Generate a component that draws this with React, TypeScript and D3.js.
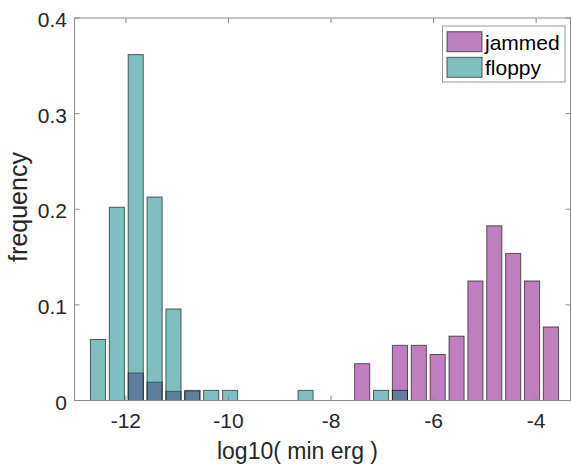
import React from "react";
import * as d3 from "d3";

// ---- data ----
const binStart = -12.728;
const binWidth = 0.368;
const jammedFreq = [0, 0, 0.0288, 0.0192, 0.0096, 0.0096, 0, 0, 0, 0, 0, 0, 0, 0, 0.0385, 0, 0.0577, 0.0577, 0.0481, 0.0673, 0.125, 0.1827, 0.1538, 0.125, 0.0769];
const floppyFreq = [0.0638, 0.2021, 0.3617, 0.2128, 0.0957, 0.0106, 0.0106, 0.0106, 0, 0, 0, 0.0106, 0, 0, 0, 0.0106, 0.0106, 0, 0, 0, 0, 0, 0, 0, 0];
const xTicks = [-12, -10, -8, -6, -4];
const yTicks = [0, 0.1, 0.2, 0.3, 0.4];
const seriesNames = ["jammed", "floppy"];

const W = 571;
const H = 464;
const FONT = "'Liberation Sans', Arial, Helvetica, sans-serif";

export default function App() {
  const x = d3.scaleLinear().domain([-13, -3.33]).range([74.6, 570.5]);
  const y = d3.scaleLinear().domain([0, 0.4]).range([400.5, 18]);
  const barFrac = 0.8;
  const colors = ["rgb(128,0,128)", "rgb(0,128,128)"];
  const series = [jammedFreq, floppyFreq];
  const left = x.range()[0];
  const right = x.range()[1];
  const top = y.range()[1];
  const bottom = y.range()[0];
  const tickLen = 5;
  const axisColor = "#8a8a8a";

  return (
    <svg width={W} height={H} style={{ position: "absolute", left: 0, top: 0, background: "#fff" }} fontFamily={FONT}>
      {/* bars */}
      {series.map((vals, si) => (
        <g key={si}>
          {vals.map((v, i) => {
            if (v <= 0) return null;
            const c = binStart + binWidth * (i + 0.5);
            const x0 = x(c - (binWidth * barFrac) / 2);
            const x1 = x(c + (binWidth * barFrac) / 2);
            return (
              <rect
                key={i}
                x={x0}
                y={y(v)}
                width={x1 - x0}
                height={y(0) - y(v)}
                fill={colors[si]}
                fillOpacity={0.5}
                stroke="#000"
                strokeOpacity={0.6}
                strokeWidth={1}
              />
            );
          })}
        </g>
      ))}

      {/* axes box */}
      <rect x={left} y={top} width={right - left} height={bottom - top} fill="none" stroke={axisColor} strokeWidth={1} />

      {/* x ticks */}
      {xTicks.map((t) => (
        <g key={"x" + t}>
          <line x1={x(t)} x2={x(t)} y1={bottom} y2={bottom - tickLen} stroke={axisColor} />
          <line x1={x(t)} x2={x(t)} y1={top} y2={top + tickLen} stroke={axisColor} />
          <text x={x(t)} y={428} textAnchor="middle" fontSize={21} fill="#262626">
            {String(t)}
          </text>
        </g>
      ))}

      {/* y ticks */}
      {yTicks.map((t) => (
        <g key={"y" + t}>
          <line x1={left} x2={left + tickLen} y1={y(t)} y2={y(t)} stroke={axisColor} />
          <line x1={right} x2={right - tickLen} y1={y(t)} y2={y(t)} stroke={axisColor} />
          <text x={67} y={y(t) + 9} textAnchor="end" fontSize={21} fill="#262626">
            {t === 0 ? "0" : String(t)}
          </text>
        </g>
      ))}

      {/* axis labels */}
      <text x={297.5} y={459} textAnchor="middle" fontSize={23} fill="#262626">
        log10( min erg )
      </text>
      <text transform={`translate(27,207) rotate(-90)`} textAnchor="middle" fontSize={25} fill="#262626">
        frequency
      </text>

      {/* legend */}
      <g>
        <rect x={442.5} y={26} width={122.5} height={56} fill="#fff" stroke="#999" strokeWidth={1} />
        {seriesNames.map((name, i) => (
          <g key={name}>
            <rect x={447} y={31.7 + i * 25.6} width={35} height={20} fill={colors[i]} fillOpacity={0.5} stroke="#000" strokeOpacity={0.6} />
            <text x={485} y={49.5 + i * 25.6} fontSize={21} fill="#000">
              {name}
            </text>
          </g>
        ))}
      </g>
    </svg>
  );
}
